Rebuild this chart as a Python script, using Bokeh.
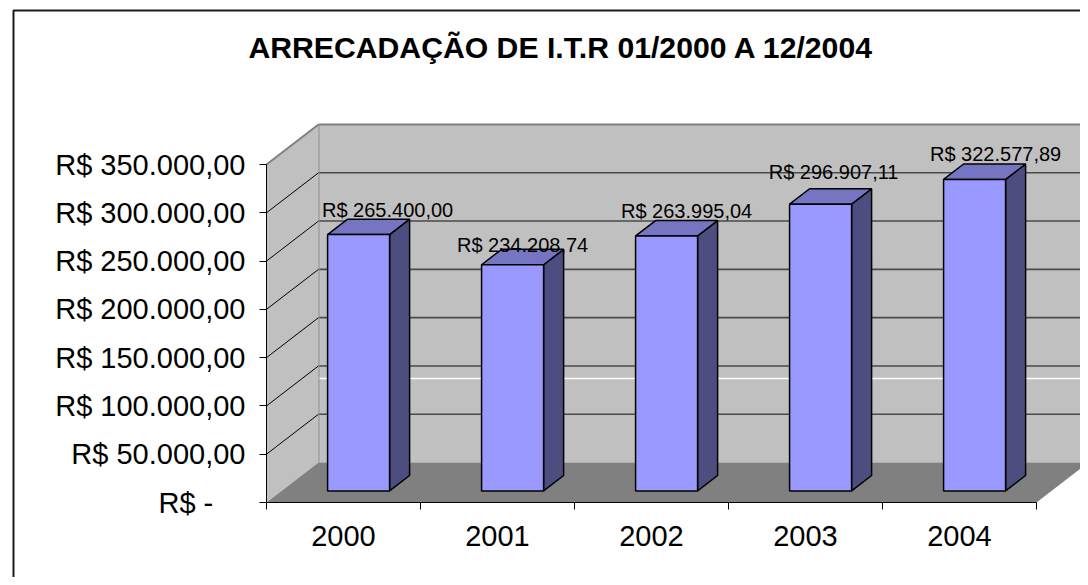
from bokeh.plotting import figure
from bokeh.models import Range1d, LinearAxis, FixedTicker, ColumnDataSource, Label
from bokeh.core.properties import value
from bokeh.embed import file_html
from bokeh.resources import INLINE

# ---------------- data ----------------
years = ["2000", "2001", "2002", "2003", "2004"]
revenue = [265400.00, 234208.74, 263995.04, 296907.11, 322577.89]
y_ticks = [0, 50000, 100000, 150000, 200000, 250000, 300000, 350000]
title_text = "ARRECADAÇÃO DE I.T.R  01/2000 A 12/2004"

# small hand-placement nudges of the value labels (pixels), as in the original
label_nudge_x = [29, 10, 20, 13, 21]
label_nudge_y = [-9, -4, -10, -17, -10]


def brl(v):
    if v == 0:
        return "R$ -" + "\u00a0" * 4
    s = f"{v:,.2f}".replace(",", "X").replace(".", ",").replace("X", ".")
    return "R$ " + s


# ---------------- layout constants ----------------
FONT = "Liberation Sans"
W, H = 1080, 577
PX_X0 = 266          # canvas x of the front value axis
CAT_PX = 154         # pixels per category
PX_Y0 = 502          # canvas y (from top) of value 0 on the front plane
YMAX = y_ticks[-1]
VPP = YMAX / 338.0   # value per pixel
DX = 52 / CAT_PX     # depth offset (x, data)
DY = 40 * VPP        # depth offset (y, data)
F0, F1 = 0.29, 0.675  # bar depth span (fraction of full depth)
BW = 62 / CAT_PX     # bar width
N = len(years)

x0r, x1r = -PX_X0 / CAT_PX, (W - PX_X0) / CAT_PX
y0r, y1r = -(H - PX_Y0) * VPP, PX_Y0 * VPP

p = figure(width=W, height=H, x_range=Range1d(x0r, x1r), y_range=Range1d(y0r, y1r),
           output_backend="svg", toolbar_location=None,
           x_axis_location=None, y_axis_location=None, min_border=0,
           outline_line_color=None, background_fill_color="white",
           border_fill_color="white")
p.grid.visible = False

# ---------------- walls & floor ----------------
# back wall
p.patch([DX, x1r + 1, x1r + 1, DX], [DY, DY, YMAX + DY, YMAX + DY],
        fill_color="#c0c0c0", line_color=None)
grid_vals = [t for t in y_ticks if 0 < t < YMAX]
p.segment(x0=[DX] * len(grid_vals), y0=[v + DY for v in grid_vals],
          x1=[x1r + 1] * len(grid_vals), y1=[v + DY for v in grid_vals],
          line_color="#4a4a4a", line_width=1.6)
# faint white artifact line seen in the original
p.segment(x0=[DX], y0=[(PX_Y0 - 378) * VPP], x1=[x1r + 1], y1=[(PX_Y0 - 378) * VPP],
          line_color="white", line_width=1.5)
p.segment(x0=[DX], y0=[YMAX + DY], x1=[x1r + 1], y1=[YMAX + DY],
          line_color="#808080", line_width=2)
p.segment(x0=[DX], y0=[DY], x1=[DX], y1=[YMAX + DY],
          line_color="#909090", line_width=2)

# side wall
p.patch([0, DX, DX, 0], [0, DY, YMAX + DY, YMAX],
        fill_color="#c0c0c0", line_color=None)
p.segment(x0=[0] * len(grid_vals), y0=grid_vals, x1=[DX] * len(grid_vals),
          y1=[v + DY for v in grid_vals], line_color="black", line_width=1)
p.segment(x0=[0], y0=[YMAX], x1=[DX], y1=[YMAX + DY], line_color="#808080", line_width=2)

# floor
p.patch([0, N, N + DX, DX], [0, 0, DY, DY], fill_color="#808080", line_color=None)

# ---------------- bars ----------------
fx, fy, tx, ty, sx, sy = [], [], [], [], [], []
dd_x, dd_y = (F1 - F0) * DX, (F1 - F0) * DY
for i, v in enumerate(revenue):
    a = i + 0.5 - BW / 2 + F0 * DX
    b = a + BW
    base = F0 * DY
    top = v + F0 * DY
    fx.append([a, b, b, a]); fy.append([base, base, top, top])
    tx.append([a, b, b + dd_x, a + dd_x]); ty.append([top, top, top + dd_y, top + dd_y])
    sx.append([b, b + dd_x, b + dd_x, b]); sy.append([base, base + dd_y, top + dd_y, top])

p.patches(sx, sy, fill_color="#4d4d80", line_color="black", line_width=1.5)
p.patches(tx, ty, fill_color="#7575c2", line_color="black", line_width=1.5)
p.patches(fx, fy, fill_color="#9999ff", line_color="black", line_width=1.5)

# data labels
lab_src = ColumnDataSource(dict(
    x=[i + 0.5 + F0 * DX for i in range(N)],
    y=[v + F1 * DY for v in revenue],
    text=[brl(v) for v in revenue],
    dx=label_nudge_x, dy=label_nudge_y))
p.text(x="x", y="y", text="text", source=lab_src, x_offset="dx", y_offset="dy",
       text_align="center", text_baseline="alphabetic",
       text_font=value(FONT), text_font_size="20px", text_color="black")

# ---------------- axes ----------------
yaxis = LinearAxis(fixed_location=0, bounds=(0, YMAX),
                   ticker=FixedTicker(ticks=y_ticks, minor_ticks=[]),
                   major_label_overrides={t: brl(t) for t in y_ticks},
                   major_tick_out=7, major_tick_in=0, minor_tick_out=0, minor_tick_in=0,
                   major_label_standoff=14, major_label_text_font=FONT,
                   major_label_text_font_size="29px", major_label_text_color="black",
                   axis_line_color="black", major_tick_line_color="black")
p.add_layout(yaxis, "left")

cat_ticks = [i + 0.5 for i in range(N)]
xaxis = LinearAxis(fixed_location=0, bounds=(0, N),
                   ticker=FixedTicker(ticks=cat_ticks, minor_ticks=list(range(N + 1))),
                   major_label_overrides={t: y for t, y in zip(cat_ticks, years)},
                   major_tick_out=0, major_tick_in=0, minor_tick_out=7, minor_tick_in=0,
                   major_label_standoff=16, major_label_text_font=FONT,
                   major_label_text_font_size="29px", major_label_text_color="black",
                   axis_line_color="black", minor_tick_line_color="black")
p.add_layout(xaxis, "below")

# ---------------- outer chart frame & title ----------------
bx = (13 - PX_X0) / CAT_PX
by = (PX_Y0 - 10) * VPP
p.line([bx, bx, x1r + 1], [y0r - 1e5, by, by], line_color="#1a1a1a", line_width=2)

p.add_layout(Label(x=565, y=H - 47, x_units="screen", y_units="screen", text=title_text,
                   text_font=FONT, text_font_style="bold", text_font_size="30.2px",
                   text_align="center", text_baseline="middle", text_color="black"))

open("out.html", "w").write(file_html(p, INLINE))
